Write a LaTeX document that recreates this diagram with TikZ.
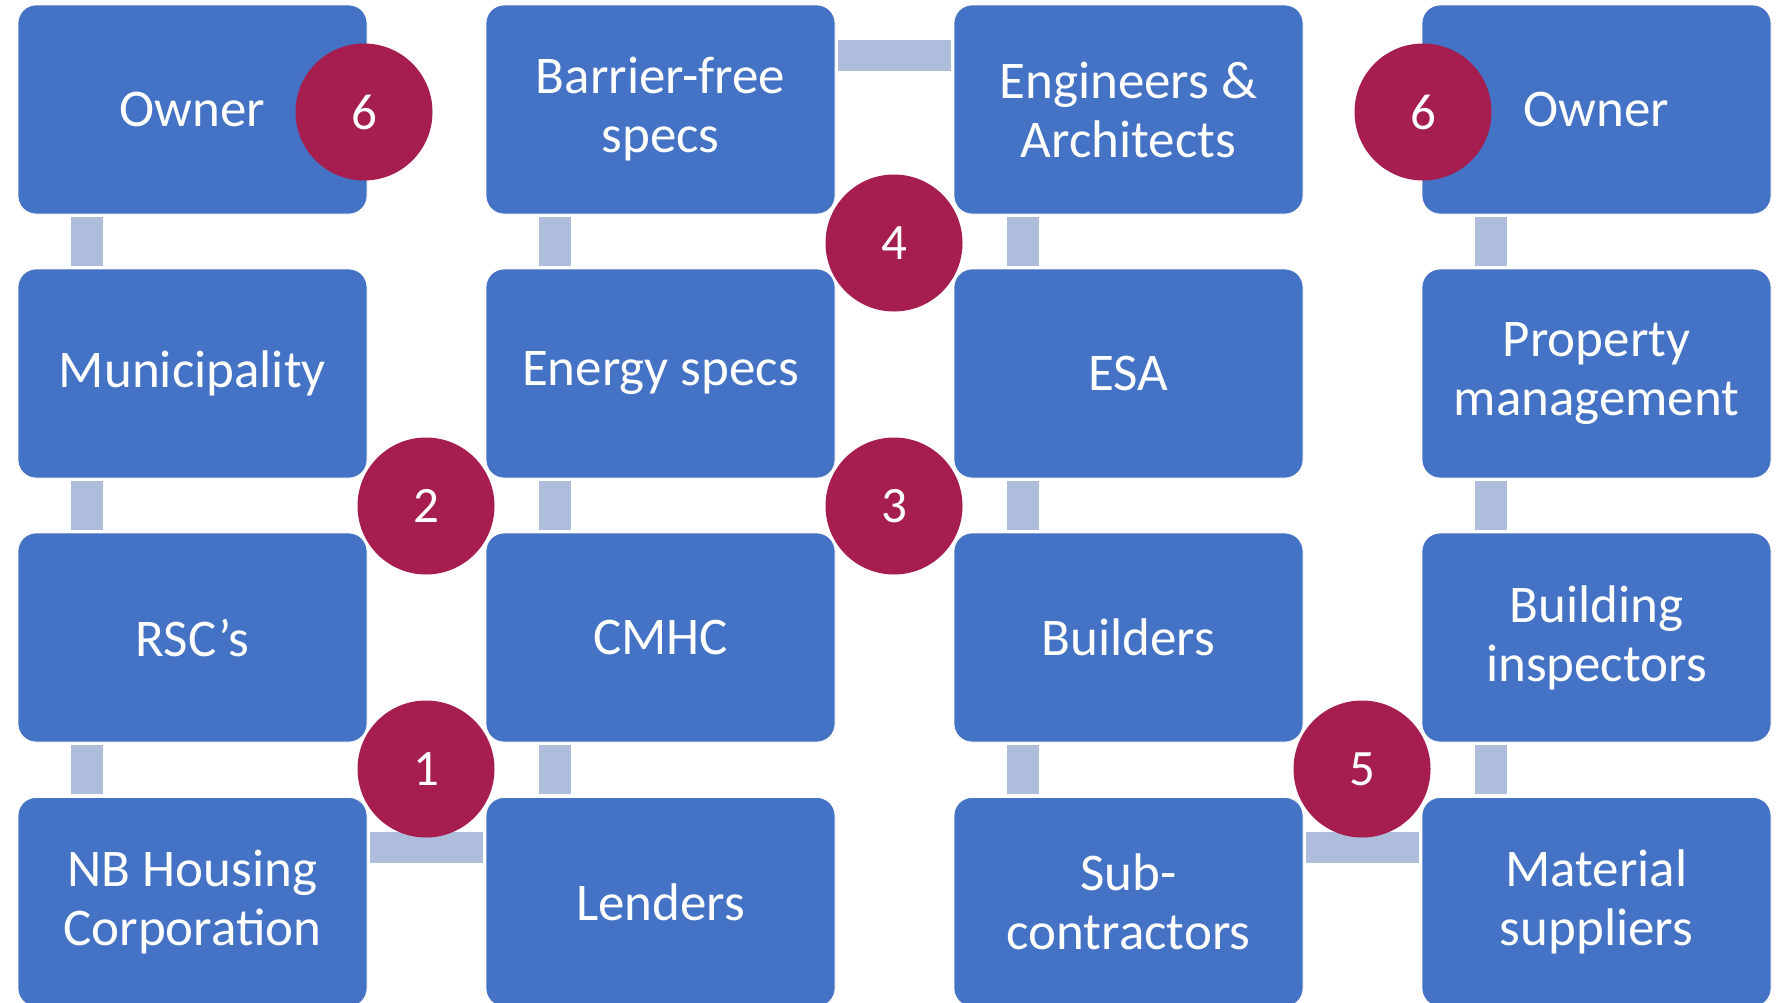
\documentclass[tikz,border=0pt]{standalone}
\usepackage{fontspec}
\setmainfont{Carlito}
\usetikzlibrary{calc}
\definecolor{boxblue}{HTML}{4472C4}
\definecolor{dotred}{HTML}{A61D4F}
\definecolor{linkblue}{HTML}{AFBDDD}
\begin{document}
\begin{tikzpicture}[x=1pt,y=-1pt,
  stepbox/.style={rectangle, rounded corners=18pt, fill=boxblue, draw=white, line width=0.8pt,
    minimum width=349pt, minimum height=209pt, inner sep=0pt, text=white, align=center,
    font=\fontsize{53}{59}\selectfont},
  badge/.style={circle, fill=dotred, minimum size=137pt, inner sep=0pt,
    text=white, font=\fontsize{51}{51}\selectfont},
  vlink/.style={draw=linkblue, line width=32pt},
  hlink/.style={draw=linkblue, line width=31pt}]
\useasboundingbox (0,0) rectangle (1777,1002);
\clip (0,0) rectangle (1777,1002);
\fill[white] (0,0) rectangle (1777,1002);
% boxes
\node[stepbox] (a1) at (192.5,109.5) {Owner};
\node[stepbox] (a2) at (192.5,373.5) {Municipality};
\node[stepbox] (a3) at (192.5,637.5) {RSC’s};
\node[stepbox] (a4) at (192.5,902) {NB Housing\\Corporation};
\node[stepbox] (b1) at (660.5,109.5) {Barrier-free\\specs};
\node[stepbox] (b2) at (660.5,373.5) {Energy specs};
\node[stepbox] (b3) at (660.5,637.5) {CMHC};
\node[stepbox] (b4) at (660.5,902) {Lenders};
\node[stepbox] (c1) at (1128.5,109.5) {Engineers \&\\Architects};
\node[stepbox] (c2) at (1128.5,373.5) {ESA};
\node[stepbox] (c3) at (1128.5,637.5) {Builders};
\node[stepbox] (c4) at (1128.5,902) {Sub-\\contractors};
\node[stepbox] (d1) at (1596.5,109.5) {Owner};
\node[stepbox] (d2) at (1596.5,373.5) {Property\\management};
\node[stepbox] (d3) at (1596.5,637.5) {Building\\inspectors};
\node[stepbox] (d4) at (1596.5,902) {Material\\suppliers};
% vertical links
\foreach \c in {a,b,c,d}{
  \draw[vlink] ($(\c1.south west)+(69,3)$) -- ($(\c2.north west)+(69,-3)$);
  \draw[vlink] ($(\c2.south west)+(69,3)$) -- ($(\c3.north west)+(69,-3)$);
  \draw[vlink] ($(\c3.south west)+(69,3)$) -- ($(\c4.north west)+(69,-3)$);
}
% horizontal links
\draw[hlink] ($(a4.north east)+(3,50.5)$) -- ($(b4.north west)+(-3,50.5)$);
\draw[hlink] ($(b1.north east)+(3,50.5)$) -- ($(c1.north west)+(-3,50.5)$);
\draw[hlink] ($(c4.north east)+(3,50.5)$) -- ($(d4.north west)+(-3,50.5)$);
% numbered badges
\node[badge] (n6a) at (364,112) {6};
\node[badge] (n6b) at (1423,112) {6};
\node[badge] (n2) at (426,506) {2};
\node[badge] (n4) at (894,243) {4};
\node[badge] (n3) at (894,506) {3};
\node[badge] (n1) at (426,769) {1};
\node[badge] (n5) at (1362,769) {5};
\end{tikzpicture}
\end{document}
